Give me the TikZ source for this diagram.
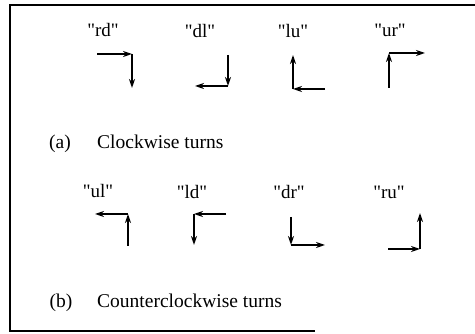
\documentclass[tikz,border=0pt]{standalone}
\usepackage{fontspec}
\setmainfont{Liberation Serif}
\usepackage{tikz}
\usetikzlibrary{arrows.meta}

\begin{document}
\begin{tikzpicture}[x=1pt,y=1pt,
    turn/.style={line width=1.6pt,-{Stealth[length=9pt,width=6pt]}},
    lab/.style={font=\fontsize{19}{21}\selectfont,inner sep=0pt,anchor=base},
    capt/.style={font=\fontsize{19.5}{22}\selectfont,inner sep=0pt,anchor=base}]
  \useasboundingbox (0,0) rectangle (475,334);
  % frame, open on the right as in the scan
  \coordinate (fr-tr) at (475,329);
  \coordinate (fr-tl) at (10,329);
  \coordinate (fr-bl) at (10,3);
  \coordinate (fr-br) at (315,3);
  \draw[line width=1.4pt] (fr-tr) -- (fr-tl) -- (fr-bl) -- (fr-br);

  % (a) clockwise turns
  \node[lab] (rd) at (103,297) {\textquotedbl rd\textquotedbl};
  \node[lab] (dl) at (200,296) {\textquotedbl dl\textquotedbl};
  \node[lab] (lu) at (293,296) {\textquotedbl lu\textquotedbl};
  \node[lab] (ur) at (390,297) {\textquotedbl ur\textquotedbl};
  \coordinate (rd-s) at (97,280);  \coordinate (rd-c) at (132,280); \coordinate (rd-e) at (132,246);
  \coordinate (dl-s) at (228,279); \coordinate (dl-c) at (228,248); \coordinate (dl-e) at (195,248);
  \coordinate (lu-s) at (325,245); \coordinate (lu-c) at (293,245); \coordinate (lu-e) at (293,279);
  \coordinate (ur-s) at (389,246); \coordinate (ur-c) at (389,281); \coordinate (ur-e) at (425,281);
  \foreach \t in {rd,dl,lu,ur}{
    \draw[turn] (\t-s) -- (\t-c);
    \draw[turn] (\t-c) -- (\t-e);
  }
  \node[capt] (a-tag) at (60,185) {(a)};
  \node[capt,anchor=base west] (a-txt) at (97,185) {Clockwise turns};

  % (b) counterclockwise turns
  \node[lab] (ul) at (98,136) {\textquotedbl ul\textquotedbl};
  \node[lab] (ld) at (192,135) {\textquotedbl ld\textquotedbl};
  \node[lab] (dr) at (289,135) {\textquotedbl dr\textquotedbl};
  \node[lab] (ru) at (389,135) {\textquotedbl ru\textquotedbl};
  \coordinate (ul-s) at (128,88);  \coordinate (ul-c) at (128,120); \coordinate (ul-e) at (95,120);
  \coordinate (ld-s) at (226,120); \coordinate (ld-c) at (194,120); \coordinate (ld-e) at (194,89);
  \coordinate (dr-s) at (291,117); \coordinate (dr-c) at (291,89);  \coordinate (dr-e) at (325,89);
  \coordinate (ru-s) at (388,85);  \coordinate (ru-c) at (420,85);  \coordinate (ru-e) at (420,121);
  \foreach \t in {ul,ld,dr,ru}{
    \draw[turn] (\t-s) -- (\t-c);
    \draw[turn] (\t-c) -- (\t-e);
  }
  \node[capt] (b-tag) at (61,26) {(b)};
  \node[capt,anchor=base west] (b-txt) at (97,26) {Counterclockwise turns};
\end{tikzpicture}
\end{document}
